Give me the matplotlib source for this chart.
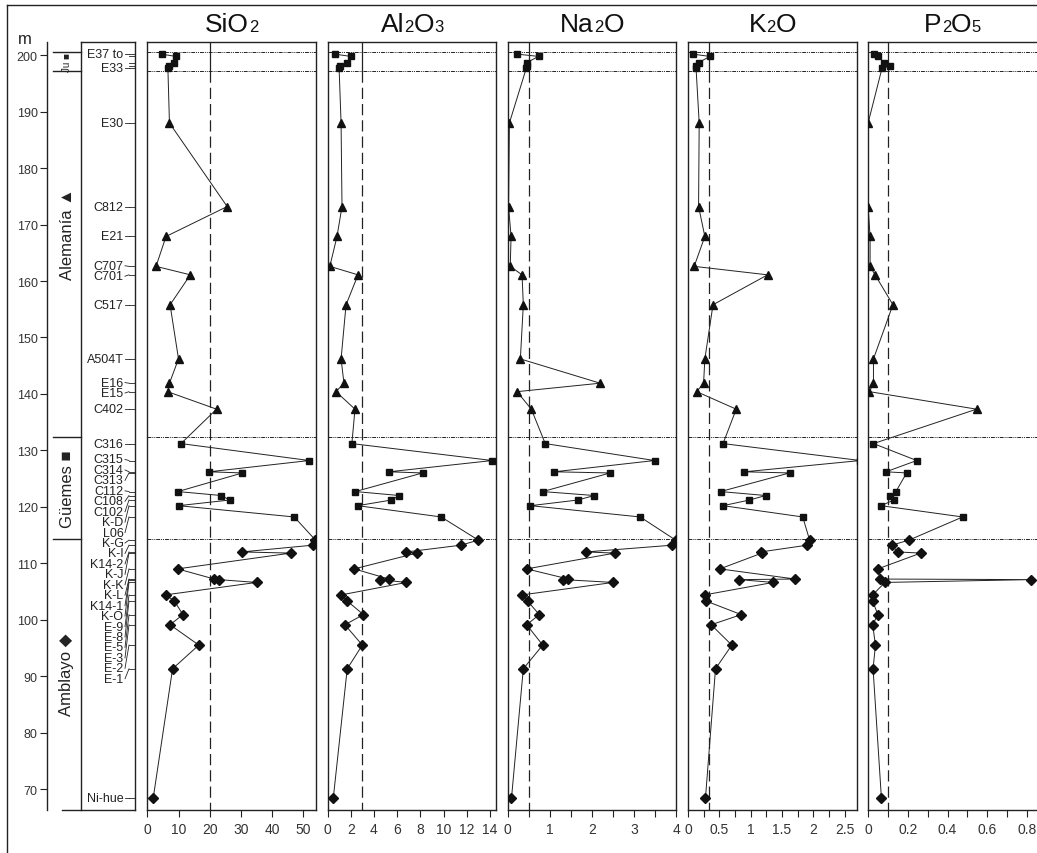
import matplotlib
matplotlib.use("Agg")
import matplotlib.pyplot as plt
from matplotlib.lines import Line2D
from matplotlib.ticker import MultipleLocator, FuncFormatter
from matplotlib.offsetbox import TextArea, HPacker, AnnotationBbox
import numpy as np

plt.rcParams['font.family'] = ['Liberation Sans', 'DejaVu Sans']

# --- data ---
samples = ["E37 to", "", "", "", "E33",
           "E30", "C812", "E21", "C707", "C701", "C517", "A504T", "E16", "E15", "C402",
           "C316", "C315", "C314", "C313", "C112", "C108", "C102", "K-D", "L06",
           "K-G", "K-I", "K14-2", "K-J", "K-K", "K-L", "K14-1", "K-O",
           "E-9", "E-8", "E-5", "E-3", "E-2", "E-1", "Ni-hue"]
depth = [200.2, 199.8, 198.7, 198.1, 197.7,
         188.0, 173.2, 167.9, 162.6, 161.1, 155.8, 146.2, 141.9, 140.4, 137.3,
         131.2, 128.2, 126.2, 126.0, 122.7, 122.0, 121.2, 120.2, 118.2,
         114.1, 113.2, 112.0, 111.8, 109.0, 107.2, 107.1, 106.6,
         104.4, 103.3, 100.9, 99.1, 95.5, 91.3, 68.4]
unit = ["top"] * 5 + ["ale"] * 10 + ["gue"] * 9 + ["amb"] * 15

sio2 = [4.6, 9.1, 8.6, 7.0, 6.6,
        7.1, 25.6, 6.0, 2.8, 13.8, 7.3, 10.0, 7.1, 6.5, 22.2,
        10.8, 51.9, 19.8, 30.5, 9.8, 23.7, 26.4, 10.0, 47.1,
        53.9, 53.0, 30.2, 46.0, 9.7, 21.5, 22.9, 35.0,
        5.9, 8.7, 11.4, 7.3, 16.5, 8.1, 1.9]
al2o3 = [0.65, 2.0, 1.7, 1.1, 1.0,
         1.17, 1.25, 0.82, 0.2, 2.63, 1.6, 1.17, 1.42, 0.73, 2.37,
         2.1, 14.2, 5.3, 8.2, 2.4, 6.2, 5.5, 2.6, 9.8,
         13.0, 11.5, 6.8, 7.7, 2.3, 5.3, 4.5, 6.8,
         1.2, 1.7, 3.1, 1.5, 3.0, 1.7, 0.5]
na2o = [0.23, 0.73, 0.45, 0.45, 0.44,
        0.04, 0.02, 0.08, 0.06, 0.34, 0.37, 0.3, 2.19, 0.22, 0.56,
        0.89, 3.48, 1.10, 2.43, 0.83, 2.05, 1.66, 0.54, 3.14,
        3.98, 3.9, 1.85, 2.54, 0.45, 1.44, 1.32, 2.50,
        0.35, 0.47, 0.75, 0.45, 0.83, 0.37, 0.09]
k2o = [0.08, 0.35, 0.17, 0.13, 0.13,
       0.18, 0.17, 0.27, 0.1, 1.27, 0.4, 0.27, 0.25, 0.14, 0.77,
       0.56, 2.75, 0.90, 1.62, 0.52, 1.24, 0.98, 0.56, 1.83,
       1.94, 1.9, 1.16, 1.18, 0.51, 1.71, 0.82, 1.36,
       0.27, 0.29, 0.85, 0.37, 0.70, 0.44, 0.28]
p2o5 = [0.03, 0.05, 0.08, 0.11, 0.07,
        0.0, 0.0, 0.01, 0.01, 0.035, 0.125, 0.027, 0.027, 0.007, 0.546,
        0.027, 0.245, 0.09, 0.194, 0.14, 0.11, 0.13, 0.065, 0.476,
        0.206, 0.119, 0.149, 0.265, 0.049, 0.06, 0.82, 0.085,
        0.023, 0.023, 0.049, 0.023, 0.037, 0.025, 0.067]

# title parts: (base text, subscript) pairs
titles = [[("SiO", "2")], [("Al", "2"), ("O", "3")], [("Na", "2"), ("O", "")],
          [("K", "2"), ("O", "")], [("P", "2"), ("O", "5")]]
series = [sio2, al2o3, na2o, k2o, p2o5]
ref_values = [20, 3, 0.5, 0.34, 0.1]
xmax = [54.1, 14.55, 4.0, 2.69, 0.85]
major = [10, 2, 1, 0.5, 0.2]
minor = [None, None, 0.5, 0.25, 0.1]

bounds = [200.5, 197.2, 132.4, 114.3]
formations = [("Ju \u25a0", 198.85, 7), ("Alemanía \u25b2", 168.5, 12),
               ("Güemes \u25a0", 123.3, 12), ("Amblayo \u25c6", 90.4, 12)]
markers = {"top": ("s", 5.0), "ale": ("^", 6.0), "gue": ("s", 5.0), "amb": ("D", 5.0)}

# --- layout ---
W, H = 1037, 854
YMIN, YMAX = 66.28, 202.3
INK = '#222222'


def fbox(x0, y0, x1, y1):
    return [x0 / W, 1 - y1 / H, (x1 - x0) / W, (y1 - y0) / H]


fig = plt.figure(figsize=(W / 100, H / 100), dpi=100)

depth = np.array(depth)
unit = np.array(unit)

# depth axis + formation column + sample label box
ax0 = fig.add_axes(fbox(46.7, 43.3, 135, 811))
ax0.set_xlim(46.7, 135)
ax0.set_ylim(YMIN, YMAX)
ax0.patch.set_visible(False)
for s in ['top', 'bottom']:
    ax0.spines[s].set_visible(False)
for s in ['left', 'right']:
    ax0.spines[s].set_color(INK)
    ax0.spines[s].set_linewidth(1.0)
ax0.set_xticks([])
ax0.set_yticks(np.arange(70, 201, 10))
ax0.tick_params(axis='y', direction='out', length=5, width=0.8, color=INK,
                labelsize=9, labelcolor='#333333', pad=1.5)

kw = dict(color=INK, lw=1.0, clip_on=False)
ax0.plot([81, 81], [YMIN, YMAX], **kw)
ax0.plot([81, 135], [YMAX, YMAX], **kw)
ax0.plot([62, 135], [YMIN, YMIN], **kw)
for b in bounds:
    ax0.plot([53, 81], [b, b], **kw)
for name, y, fs in formations:
    ax0.text(67, y, name, rotation=90, ha='center', va='center', fontsize=fs, color=INK)

# spread labels so they don't overlap (pushes mostly downward)
lab_idx = [i for i, s in enumerate(samples) if s]
pos = depth[lab_idx].astype(float).copy()
gap = 1.85
for _ in range(600):
    for i in range(1, len(pos)):
        d = pos[i - 1] - pos[i]
        if d < gap:
            sh = gap - d
            pos[i - 1] += 0.3 * sh
            pos[i] -= 0.7 * sh
for i, ly in zip(lab_idx, pos):
    ax0.text(123.5, ly, samples[i], ha='right', va='center', fontsize=9, color=INK)
    ax0.plot([125, 129], [ly, depth[i]], color=INK, lw=0.6)
for d in depth:
    ax0.plot([129, 135], [d, d], color=INK, lw=0.6)

fig.text(25 / W, 1 - 40 / H, 'm', ha='center', va='center', fontsize=12, color=INK)

# element panels
for k in range(5):
    left = 147.3 + k * 180.2
    ax = fig.add_axes(fbox(left, 43.3, left + 168.8, 811))
    vals = np.array(series[k])
    ax.set_xlim(0, xmax[k])
    ax.set_ylim(YMIN, YMAX)
    ax.set_yticks([])
    ax.xaxis.set_major_locator(MultipleLocator(major[k]))
    if minor[k]:
        ax.xaxis.set_minor_locator(MultipleLocator(minor[k]))
    ax.tick_params(axis='x', which='both', direction='out', length=5, width=0.8,
                   color=INK, labelsize=10, labelcolor='#333333', pad=4)
    ax.xaxis.set_major_formatter(FuncFormatter(lambda v, p: f"{v:g}"))
    for s in ax.spines.values():
        s.set_color(INK)
        s.set_linewidth(1.0)
    if k == 4:
        ax.spines['right'].set_visible(False)

    for b in bounds:
        ax.axhline(b, color=INK, lw=0.7, ls=(0, (4, 1, 1, 1, 1, 1)), zorder=1)
    r = ref_values[k]
    ax.plot([r, r], [YMAX, bounds[1]], color=INK, lw=0.9, zorder=1)
    ax.plot([r, r], [bounds[1], YMIN], color=INK, lw=0.9, ls=(0, (9, 4)), zorder=1)

    ax.plot(vals, depth, color=INK, lw=0.7, zorder=2)
    for u, (m, ms) in markers.items():
        sel = unit == u
        ax.plot(vals[sel], depth[sel], ls='none', marker=m, ms=ms, color='#111111',
                zorder=3)

    # title with small baseline-aligned digits
    parts = []
    for base, sub in titles[k]:
        parts.append(TextArea(base, textprops=dict(fontsize=19, color='#111111')))
        if sub:
            parts.append(TextArea(sub, textprops=dict(fontsize=12, color='#111111')))
    title = HPacker(children=parts, align='baseline', pad=0, sep=0)
    ab = AnnotationBbox(title, ((left + 84.4) / W, 1 - 25 / H), xycoords='figure fraction',
                        box_alignment=(0.5, 0.5), frameon=False, pad=0)
    fig.add_artist(ab)

# scan frame (top and left edges)
fig.add_artist(Line2D([7 / W, 1], [1 - 6 / H, 1 - 6 / H], transform=fig.transFigure,
                      color=INK, lw=1.0))
fig.add_artist(Line2D([7 / W, 7 / W], [0, 1 - 6 / H], transform=fig.transFigure,
                      color=INK, lw=1.0))

fig.savefig("out.png", dpi=100)
